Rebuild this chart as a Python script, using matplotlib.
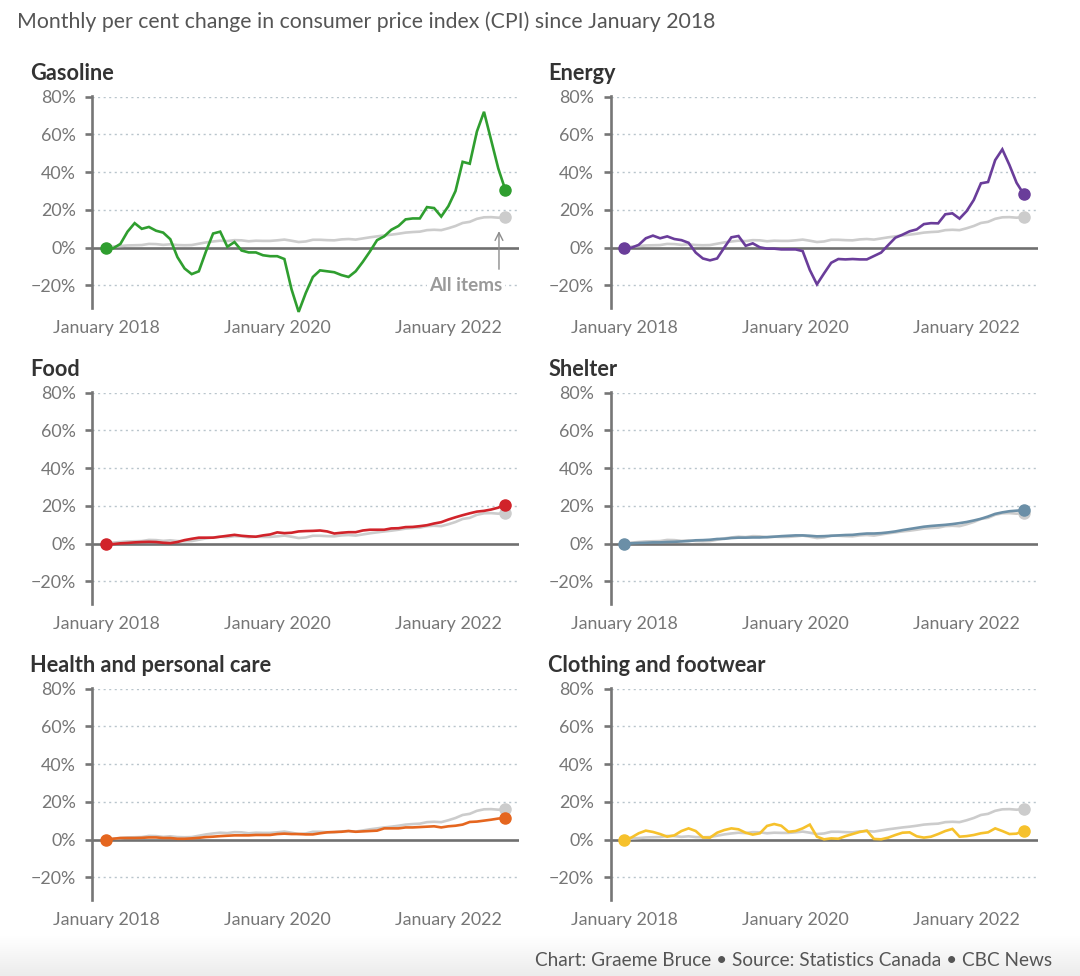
import numpy as np
import matplotlib
matplotlib.use("Agg")
import matplotlib.pyplot as plt

plt.rcParams['font.family'] = ['Lato', 'DejaVu Sans']

# ---------------- data (per cent change since January 2018, monthly Jan 2018 - Sep 2022)
month_ticks = [0, 24, 48]
month_tick_labels = ["January 2018", "January 2020", "January 2022"]
y_ticks = [-20, 0, 20, 40, 60, 80]
y_tick_labels = ["\u221220%", "0%", "20%", "40%", "60%", "80%"]

all_items = [0, 0.6, 0.9, 1.2, 1.3, 1.4, 2.0, 1.9, 1.5, 1.8, 1.4, 1.3,
             1.4, 2.1, 2.8, 3.3, 3.7, 3.5, 4.0, 3.9, 3.4, 3.7, 3.6, 3.6,
             3.9, 4.3, 3.7, 3.0, 3.3, 4.2, 4.2, 4.0, 3.9, 4.4, 4.6, 4.3,
             4.9, 5.5, 6.0, 6.5, 6.9, 7.4, 8.0, 8.3, 8.5, 9.3, 9.5, 9.3,
             10.3, 11.5, 13.1, 13.7, 15.3, 16.1, 16.2, 15.9, 16.2]

gasoline = [0, -0.3, 2, 8.5, 13, 10, 11, 9, 8, 4.5, -5, -11,
            -14, -12.5, -2, 7.5, 8.5, 0.5, 3, -1.5, -2.5, -2.5, -4, -4.5,
            -4.5, -6, -22, -34, -24, -15.5, -12, -12.5, -13, -14.5, -15.5, -12.5,
            -7.5, -2, 4, 6, 9.5, 11.5, 15, 15.5, 15.5, 21.5, 21, 16.5,
            22, 30, 45.5, 44.5, 61.5, 72, 57, 42, 30.5]

energy = [0, 0, 1.5, 5, 6.4, 5, 6, 4.6, 4, 2.6, -2.6, -5.7,
          -6.7, -5.7, 0, 5.5, 6.2, 1, 2.3, 0.2, -0.5, -0.5, -0.9, -0.9,
          -0.9, -1.8, -11.8, -19.4, -13.6, -8, -6, -6.2, -6, -6.2, -6.2, -4.4,
          -2.6, 1.4, 5.3, 6.9, 8.7, 9.7, 12.5, 13, 12.9, 17.7, 18.2, 15.4,
          19.4, 25.3, 34.1, 34.8, 46.4, 52.1, 43.8, 34.4, 28.4]

food = [0, -0.2, 0.2, 0.4, 0.7, 0.9, 1.0, 0.9, 0.5, 0.3, 0.9, 1.9,
        2.6, 3.2, 3.2, 3.2, 3.7, 4.2, 4.7, 4.2, 3.9, 3.7, 4.4, 4.9,
        6.0, 5.6, 5.8, 6.5, 6.7, 6.8, 7.0, 6.5, 5.4, 5.8, 6.1, 6.1,
        7.0, 7.4, 7.4, 7.4, 8.1, 8.2, 8.8, 8.9, 9.3, 9.8, 10.7, 11.4,
        12.8, 14.0, 15.1, 16.1, 17.0, 17.4, 18.1, 19.1, 20.7]

shelter = [0, 0.2, 0.4, 0.5, 0.7, 0.7, 0.9, 1.0, 1.2, 1.4, 1.8, 1.9,
           2.1, 2.5, 2.6, 3.0, 3.2, 3.2, 3.3, 3.3, 3.5, 3.7, 4.0, 4.2,
           4.4, 4.4, 4.2, 3.9, 4.0, 4.2, 4.4, 4.6, 4.7, 5.1, 5.4, 5.4,
           5.6, 6.0, 6.5, 7.2, 7.8, 8.4, 9.0, 9.4, 9.7, 10.0, 10.4, 10.9,
           11.5, 12.3, 13.2, 14.4, 15.8, 16.6, 17.2, 17.5, 17.8]

health = [0, 0.5, 0.9, 0.9, 0.9, 1.0, 1.2, 1.2, 0.9, 0.9, 0.5, 0.5,
          0.7, 1.0, 1.4, 1.6, 1.9, 2.1, 2.3, 2.3, 2.3, 2.5, 2.5, 2.5,
          3.0, 3.2, 3.0, 3.0, 2.8, 2.8, 3.4, 3.9, 4.1, 4.2, 4.6, 4.2,
          4.4, 4.6, 4.8, 6.0, 6.0, 6.0, 6.5, 6.5, 6.7, 6.9, 7.1, 6.5,
          7.1, 7.4, 8.0, 9.4, 9.6, 10.1, 10.6, 11.2, 11.5]

clothing = [0, 1.2, 3.4, 4.8, 4.1, 3.0, 1.6, 2.3, 4.6, 6.0, 4.6, 1.2,
            1.1, 3.7, 5.1, 6.0, 5.5, 3.7, 2.7, 3.4, 7.3, 8.3, 7.4, 4.2,
            4.6, 6.0, 8.0, 1.6, 0.2, 0.7, 0.5, 1.9, 3.0, 4.1, 4.8, 0.4,
            0.2, 1.1, 2.5, 3.7, 3.9, 1.8, 1.1, 1.6, 3.0, 4.6, 5.7, 1.6,
            1.9, 2.5, 3.4, 3.9, 6.0, 4.6, 3.0, 3.2, 4.8]

panel_titles = ["Gasoline", "Energy", "Food", "Shelter",
                "Health and personal care", "Clothing and footwear"]
panel_series = [gasoline, energy, food, shelter, health, clothing]
panel_colors = ["#2f9e2f", "#6a3d9a", "#d1232a", "#6b8fa7", "#e5661f", "#f6c12c"]

GREY_LINE = "#cccccc"
AXIS = "#767676"
TEXT = "#767676"

W, H = 1080, 976
fig = plt.figure(figsize=(W / 100, H / 100), dpi=100)

# subtle grey band at the bottom
grad = np.linspace(0, 1, 60).reshape(-1, 1)
bg = fig.add_axes([0, 0, 1, 40 / H], zorder=-5)
bg.imshow(grad, aspect='auto', cmap=matplotlib.colors.LinearSegmentedColormap.from_list(
    "g", ["#ececec", "#ffffff"]), origin='lower', extent=[0, 1, 0, 1])
bg.axis('off')

fig.text(17 / W, 1 - 22 / H,
         "Monthly per cent change in consumer price index (CPI) since January 2018",
         fontsize=15.3, color="#555555", ha='left', va='center')
fig.text(1052 / W, 1 - 961 / H,
         "Chart: Graeme Bruce \u2022 Source: Statistics Canada \u2022 CBC News",
         fontsize=13.7, color="#555555", ha='right', va='center')

x = np.arange(len(all_items))
lefts = [92.3, 610.6]
AX_H = 211.4
for k, (title, series, color) in enumerate(zip(panel_titles, panel_series, panel_colors)):
    r, c = divmod(k, 2)
    top_px = 96.7 + 296 * r
    bot_px = top_px + AX_H
    ax = fig.add_axes([lefts[c] / W, 1 - bot_px / H, 427 / W, AX_H / H])
    ax.set_xlim(-1.94, 57.95)
    ax.set_ylim(-32, 80)
    for s in ['top', 'right', 'bottom']:
        ax.spines[s].set_visible(False)
    ax.spines['left'].set_color(AXIS)
    ax.spines['left'].set_linewidth(1.9)
    ax.spines['left'].set_bounds(-32, 80.6)
    ax.set_yticks(y_ticks)
    ax.set_yticklabels(y_tick_labels)
    ax.tick_params(axis='y', length=5, width=1.9, color=AXIS, pad=7,
                   labelsize=12.9, labelcolor=TEXT)
    ax.set_xticks(month_ticks)
    ax.set_xticklabels(month_tick_labels)
    ax.tick_params(axis='x', length=0, pad=8.5, labelsize=12.9, labelcolor=TEXT)
    for yv in [-20, 20, 40, 60, 80]:
        ax.axhline(yv, color="#b9c5cc", lw=1.0, ls=(0, (1.5, 2.5)), zorder=1)
    ax.axhline(0, color="#707070", lw=1.9, zorder=2)
    ax.plot(x, all_items, color=GREY_LINE, lw=1.9, zorder=3, solid_capstyle='round')
    ax.plot(x[-1], all_items[-1], 'o', color=GREY_LINE, ms=8, zorder=3)
    ax.plot(x, series, color=color, lw=1.9, zorder=4, clip_on=False,
            solid_joinstyle='miter')
    ax.plot([x[0], x[-1]], [series[0], series[-1]], 'o', color=color, ms=8,
            zorder=5, lw=0, clip_on=False)
    ax.text(-62.3 / 427, 1 + 22.7 / AX_H, title, transform=ax.transAxes, fontsize=15.7,
            fontweight='bold', color="#333333", ha='left', va='center')
    ax.set_facecolor('none')
    if k == 0:
        ax.annotate("", xy=(55.1, 8.8), xytext=(55.1, -11.4),
                    arrowprops=dict(arrowstyle='->', color="#8c8c8c", lw=1.0,
                                    mutation_scale=14, shrinkA=0, shrinkB=0),
                    zorder=6)
        ax.text(55.6, -20, "All items", fontsize=13.6, fontweight='bold',
                color="#9a9a9a", ha='right', va='center', zorder=6,
                bbox=dict(facecolor='white', edgecolor='none', pad=1.5))

fig.savefig("out.png", dpi=100)
